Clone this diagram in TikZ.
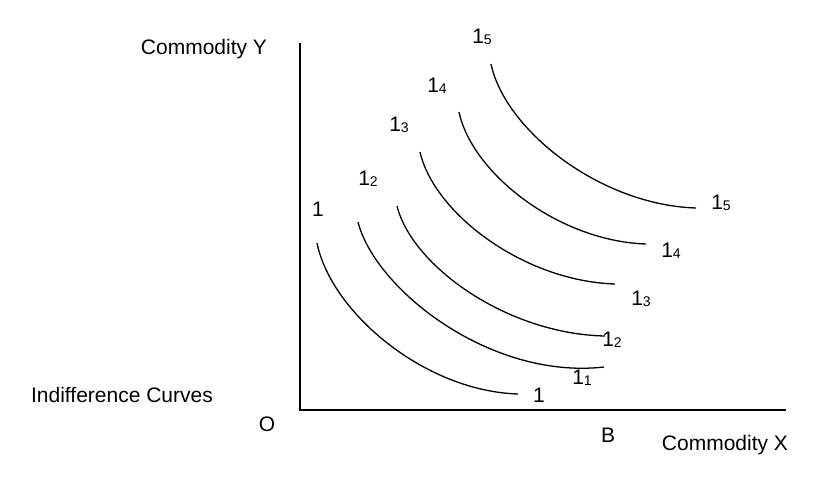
\documentclass[tikz,border=0pt]{standalone}
\usepackage{fontspec}
\setmainfont{Liberation Sans}
\newcommand{\sublab}[1]{1\raisebox{-1.5pt}{\fontsize{14}{14}\selectfont #1}}
\begin{document}
\begin{tikzpicture}[x=1pt,y=-1pt,
  lab/.style={inner sep=0pt,font=\fontsize{21}{24}\selectfont},
  axis/.style={line width=2pt},
  icurve/.style={line width=1.3pt}]
\useasboundingbox (0,0) rectangle (816,480);
% axes
\coordinate (top) at (300,43);
\coordinate (orig) at (300,410);
\coordinate (xend) at (786,410);
\draw[axis] (top) -- (orig) -- (xend);
% curves
\draw[icurve] (317,243) .. controls (331,312) and (424,391) .. (518,394);
\draw[icurve] (358,222) .. controls (375,289) and (490,380) .. (604,367);
\draw[icurve] (397,206) .. controls (412,266) and (507,334) .. (605,336);
\draw[icurve] (420,152) .. controls (434,213) and (523,281) .. (615,284);
\draw[icurve] (459,112) .. controls (472,173) and (558,241) .. (646,244);
\draw[icurve] (491,64) .. controls (505,130) and (600,205) .. (696,208);
% texts
\node[lab] (cy) at (204,49) {Commodity Y};
\node[lab] (ic) at (122,395) {Indifference Curves};
\node[lab] (o) at (267,424) {O};
\node[lab] (b) at (608,435) {B};
\node[lab] (cx) at (725,445) {Commodity X};
% top labels
\node[lab] (t1) at (318,209) {1};
\node[lab] (t2) at (368,179) {\sublab{2}};
\node[lab] (t3) at (399,125) {\sublab{3}};
\node[lab] (t4) at (437,86) {\sublab{4}};
\node[lab] (t5) at (482,37) {\sublab{5}};
% right labels
\node[lab] (r1) at (539,395) {1};
\node[lab] (r2) at (582,378) {\sublab{1}};
\node[lab] (r3) at (612,340) {\sublab{2}};
\node[lab] (r4) at (641,299) {\sublab{3}};
\node[lab] (r5) at (671,251) {\sublab{4}};
\node[lab] (r6) at (721,203) {\sublab{5}};
\end{tikzpicture}
\end{document}
